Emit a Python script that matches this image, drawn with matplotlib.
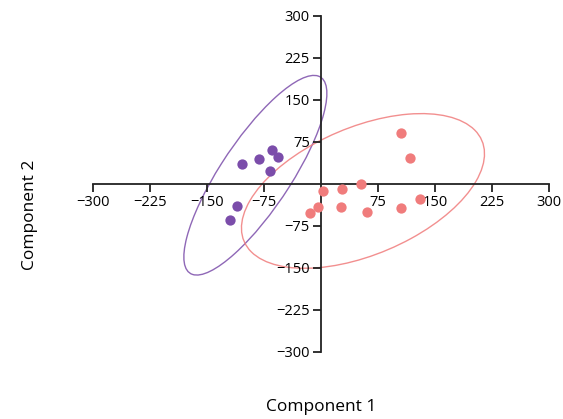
import numpy as np
import matplotlib.pyplot as plt
from matplotlib.patches import Ellipse

plt.rcParams['font.family'] = ['Open Sans', 'DejaVu Sans']

# scores of the two groups (Component 1, Component 2)
group_a_x = [-104, -81, -64, -57, -67, -111, -120]
group_a_y = [35, 45, 60, 47, 23, -39, -65]
group_b_x = [104.7, 116.5, 52.5, 27, 3, -3.5, -14.5, 26, 60, 104.7, 130]
group_b_y = [91, 46, 0, -10, -13, -41, -53, -42, -50, -43, -27]

ticks = [-300, -225, -150, -75, 75, 150, 225, 300]

color_a = '#7B4DAA'
color_b = '#F07C7C'


def confidence_ellipse(ax, x, y, color, alpha=0.95):
    x = np.asarray(x, float)
    y = np.asarray(y, float)
    n = len(x)
    cov = np.cov(x, y)
    # F(2, n-2) quantile, closed form for df1 = 2
    d2 = n - 2
    f = d2 / 2 * ((1 - alpha) ** (-2 / d2) - 1)
    scale = np.sqrt(2 * (n - 1) / (n - 2) * f)
    vals, vecs = np.linalg.eigh(cov)
    order = vals.argsort()[::-1]
    vals, vecs = vals[order], vecs[:, order]
    angle = np.degrees(np.arctan2(vecs[1, 0], vecs[0, 0]))
    w, h = 2 * scale * np.sqrt(vals)
    ell = Ellipse((x.mean(), y.mean()), w, h, angle=angle,
                  facecolor='none', edgecolor=color, linewidth=1.0, alpha=0.85)
    ax.add_patch(ell)


fig = plt.figure(figsize=(5.63, 4.19), dpi=100)
ax = fig.add_axes([0.1647, 0.1606, 0.811, 0.8019])

ax.scatter(group_a_x, group_a_y, s=55, color=color_a, zorder=3, linewidths=0)
ax.scatter(group_b_x, group_b_y, s=55, color=color_b, zorder=3, linewidths=0)
confidence_ellipse(ax, group_a_x, group_a_y, color_a)
confidence_ellipse(ax, group_b_x, group_b_y, color_b)

ax.set_xlim(-300, 300)
ax.set_ylim(-300, 300)
ax.spines['left'].set_position(('data', 0))
ax.spines['bottom'].set_position(('data', 0))
ax.spines['right'].set_visible(False)
ax.spines['top'].set_visible(False)
for s in ['left', 'bottom']:
    ax.spines[s].set_linewidth(1.3)
    ax.spines[s].set_color('#222222')
ax.set_xticks(ticks)
ax.set_yticks(ticks)
ax.tick_params(length=6, width=1.3, color='#222222', labelsize=10.5, pad=2)

fig.text(0.57, 0.028, 'Component 1', ha='center', va='center', fontsize=12.5)
fig.text(0.053, 0.487, 'Component 2', ha='center', va='center',
         rotation=90, fontsize=12.5)

fig.savefig('out.png', dpi=100)
